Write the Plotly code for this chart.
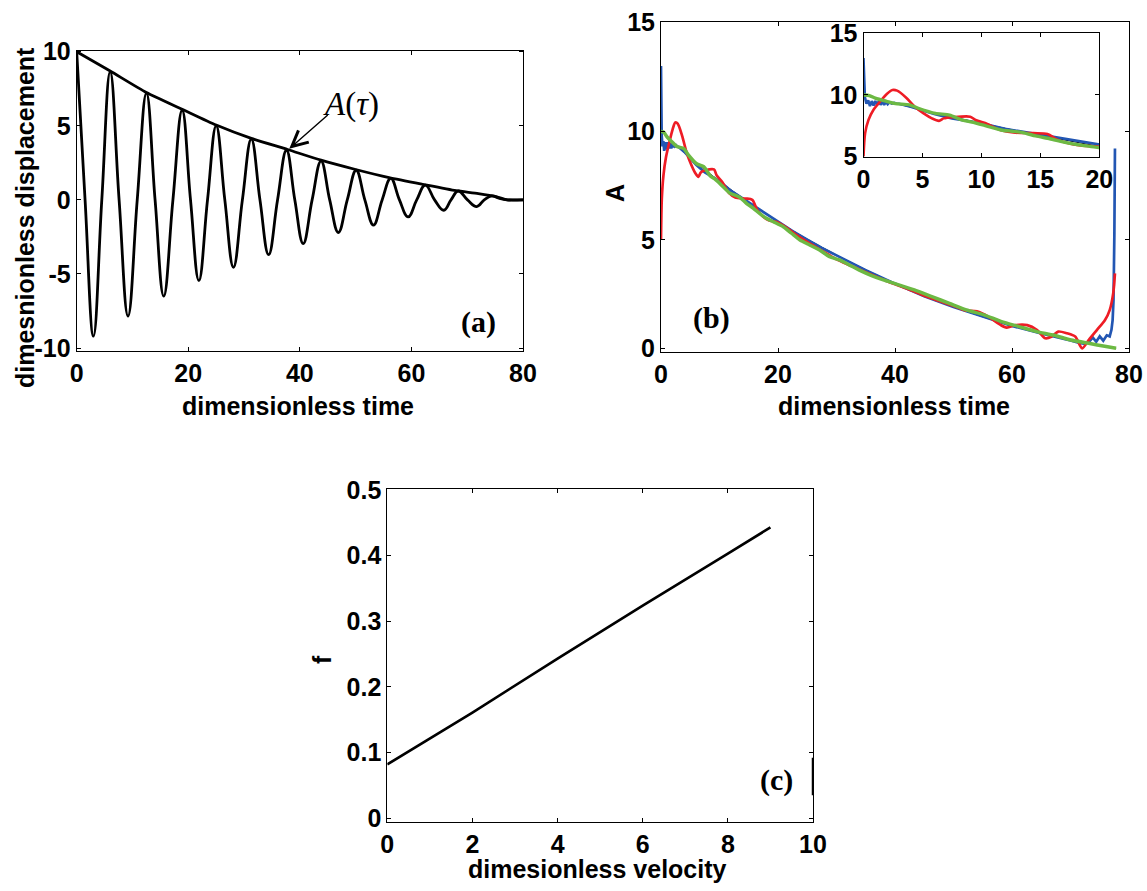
import plotly.graph_objects as go

W, H = 1147, 891

# ---------------- Panel (a): damped oscillation ----------------
a_t = [0, 1.5, 3.0, 4.5, 6.0, 7.6, 9.2, 10.85, 12.5, 14.05, 15.6, 17.25, 18.9, 20.4,
       21.9, 23.45, 25.0, 26.55, 28.1, 29.7, 31.3, 32.85, 34.4, 36.0, 37.6, 39.1, 40.6,
       42.2, 43.8, 45.35, 46.9, 48.5, 50.1, 51.65, 53.2, 54.75, 56.3, 57.85, 59.4, 60.95,
       62.5, 64.15, 65.8, 67.1, 68.4, 70.05, 71.7, 73.05, 74.4, 75.8, 77.1, 78.5, 80]
a_x = [10, 0, -9.2, 0, 8.65, 0, -7.85, 0, 7.2, 0, -6.5, 0, 6.05, 0,
       -5.45, 0, 5.0, 0, -4.55, 0, 4.1, 0, -3.7, 0, 3.35, 0, -2.95,
       0, 2.62, 0, -2.2, 0, 2.0, 0, -1.7, 0, 1.45, 0, -1.15, 0,
       1.0, 0, -0.7, 0, 0.6, 0, -0.45, 0, 0.27, 0.1, 0, 0, 0]
env_t = [0, 6, 12.5, 19, 25, 31.3, 37.8, 43.8, 50, 56, 62, 68, 72, 75.3, 77.2, 80]
env_A = [10, 8.7, 7.25, 6.1, 5.05, 4.15, 3.4, 2.68, 2.05, 1.5, 1.05, 0.62, 0.42, 0.2, 0, 0]
a_xticks = [0, 20, 40, 60, 80]
a_yticks = [-10, -5, 0, 5, 10]
a_yticklabels = ["-10", "-5", "0", "5", "10"]

# ---------------- Panel (b): amplitude A ----------------
b_blue_t = [0, 0.05, 0.12, 0.25, 0.4, 0.55, 0.7, 0.85, 1.0, 1.15, 1.3, 1.45, 1.6, 1.75, 1.9,
            2.05, 2.2, 2.4, 2.6, 2.8, 3.0, 4.0, 5.0, 6.0, 7.5, 10, 12, 15, 17.5, 20, 22.5,
            25, 27.5, 30, 32.5, 35, 40, 45, 50, 55, 60, 65, 68, 70, 71.5, 72.5, 73.2,
            73.8, 74.4, 75.0, 75.6, 76.2, 76.7, 77.0, 77.2, 77.35, 77.5, 77.6]
b_blue_A = [13.0, 11.0, 9.8, 9.3, 9.55, 9.1, 9.5, 9.15, 9.5, 9.2, 9.5, 9.2, 9.45, 9.2, 9.45,
            9.25, 9.4, 9.3, 9.35, 9.3, 9.28, 9.05, 8.75, 8.45, 8.1, 7.7, 7.25, 6.72, 6.25, 5.82, 5.4,
            5.0, 4.62, 4.28, 3.93, 3.6, 2.98, 2.4, 1.9, 1.45, 1.03, 0.68, 0.5, 0.36, 0.25, 0.2, 0.3,
            0.5, 0.3, 0.55, 0.35, 0.6, 0.55, 0.85, 1.3, 2.2, 5.3, 9.2]
b_red_t = [0, 0.14, 0.42, 0.85, 1.4, 2.0, 2.45, 2.85, 3.6, 4.4, 5.1, 5.8, 6.4, 6.8, 7.6, 9.05,
           9.5, 10.5, 11.6, 12.7, 14.4, 15.6, 16.4, 17.3, 18.4, 20, 21.5, 23, 25, 27.5, 30,
           32.5, 35, 37.5, 40, 42.5, 45, 47.5, 50, 52, 54, 56, 57.9, 59.1, 60.6, 62.6, 64.3,
           65.7, 66.8, 67.9, 69.4, 70.8, 72.0, 73.1, 74.5, 75.9, 76.7, 77.3, 77.6]
b_red_A = [5.0, 6.9, 7.97, 8.8, 9.46, 10.1, 10.4, 10.35, 9.8, 9.0, 8.5, 8.1, 7.9, 8.1, 8.2, 8.24,
           7.97, 7.65, 7.16, 6.95, 6.9, 6.84, 6.4, 6.1, 5.9, 5.8, 5.55, 5.25, 4.9, 4.5, 4.1,
           3.8, 3.5, 3.22, 2.95, 2.7, 2.42, 2.18, 1.95, 1.75, 1.7, 1.45, 1.1, 0.95, 1.07, 1.07, 0.84,
           0.46, 0.54, 0.77, 0.69, 0.54, 0.0, 0.38, 0.84, 1.3, 1.76, 2.53, 3.45]
b_green_t = [0, 0.5, 1.0, 1.9, 2.7, 3.9, 4.7, 6.1, 7.3, 8.4, 9.2, 10.4, 11.8, 12.6, 13.5, 14.6,
             15.8, 16.9, 18.0, 19.2, 20.9, 22.3, 23.7, 25.4, 27.1, 28.8, 30.5, 32.2, 33.9, 36,
             38, 40, 43.3, 46.3, 49.3, 52.2, 55.2, 58.2, 61.2, 64.2, 67.2, 70.1, 73.1, 76.1, 77.8]
b_green_A = [10.0, 9.95, 9.75, 9.5, 9.3, 9.2, 8.9, 8.5, 8.37, 7.95, 7.8, 7.5, 7.14, 7.06, 6.95, 6.68,
             6.45, 6.2, 5.99, 5.83, 5.6, 5.3, 5.0, 4.76, 4.53, 4.22, 4.07, 3.84, 3.6, 3.35,
             3.15, 2.98, 2.69, 2.38, 2.07, 1.77, 1.54, 1.23, 1.0, 0.77, 0.6, 0.38, 0.23, 0.08, 0.0]
b_black_t = [0, 1, 2, 3, 5, 7.5, 10, 12.5, 15, 17.5, 20, 25, 30, 35, 40, 45, 50, 55, 60, 65, 70, 75, 77.8]
b_black_A = [10, 9.75, 9.5, 9.25, 8.78, 8.22, 7.7, 7.2, 6.73, 6.27, 5.83, 5.03, 4.3, 3.62, 2.99,
             2.42, 1.9, 1.45, 1.04, 0.68, 0.38, 0.13, 0]
b_xticks = [0, 20, 40, 60, 80]
b_yticks = [0, 5, 10, 15]
inset_xticks = [0, 5, 10, 15, 20]
inset_yticks = [5, 10, 15]

# ---------------- Panel (c): f vs velocity ----------------
c_v = [0, 2, 4, 6, 8, 9]
c_f = [0.082, 0.161, 0.243, 0.324, 0.403, 0.443]
c_xticks = [0, 2, 4, 6, 8, 10]
c_yticks = [0, 0.1, 0.2, 0.3, 0.4, 0.5]
c_yticklabels = ["0", "0.1", "0.2", "0.3", "0.4", "0.5"]
c_axis_blot = [0.035, 0.092]

BLUE = "#2256b3"
RED = "#ee1c25"
GREEN = "#6cb943"

def px(x):
    return x / W

def py(y):
    return 1 - y / H

fig = go.Figure()

# (a)
fig.add_trace(go.Scatter(x=a_t, y=a_x, mode="lines", line=dict(color="black", width=2.8, shape="spline", smoothing=1.2),
                         xaxis="x", yaxis="y", showlegend=False))
fig.add_trace(go.Scatter(x=env_t, y=env_A, mode="lines", line=dict(color="black", width=2.8, shape="spline", smoothing=0.6),
                         xaxis="x", yaxis="y", showlegend=False))

# (b) main and inset
for xa, ya, w in (("x2", "y2", 2.7), ("x3", "y3", 2.6)):
    fig.add_trace(go.Scatter(x=b_black_t, y=b_black_A, mode="lines", line=dict(color="black", width=1, shape="spline"),
                             xaxis=xa, yaxis=ya, showlegend=False))
    fig.add_trace(go.Scatter(x=b_blue_t, y=b_blue_A, mode="lines", line=dict(color=BLUE, width=w),
                             xaxis=xa, yaxis=ya, showlegend=False))
    fig.add_trace(go.Scatter(x=b_red_t, y=b_red_A, mode="lines", line=dict(color=RED, width=w, shape="spline", smoothing=0.8),
                             xaxis=xa, yaxis=ya, showlegend=False))
    fig.add_trace(go.Scatter(x=b_green_t, y=b_green_A, mode="lines", line=dict(color=GREEN, width=w + 0.8, shape="spline", smoothing=0.6),
                             xaxis=xa, yaxis=ya, showlegend=False))

# (c)
fig.add_trace(go.Scatter(x=c_v, y=c_f, mode="lines", line=dict(color="black", width=2.6),
                         xaxis="x4", yaxis="y4", showlegend=False))

tickfont = dict(family="Liberation Sans, Arial, sans-serif", size=25, color="black", weight="bold")
axis_common = dict(showline=True, linecolor="black", linewidth=1, mirror="ticks", ticks="inside",
                   ticklen=4, tickwidth=1, tickcolor="black", showgrid=False, zeroline=False,
                   tickfont=tickfont, fixedrange=True, automargin=False)

layout = dict(
    width=W, height=H, margin=dict(l=0, r=0, t=0, b=0, pad=0, autoexpand=False),
    paper_bgcolor="white", plot_bgcolor="white", showlegend=False,
    xaxis=dict(axis_common, domain=[px(76.7), px(523)], range=[0, 80], tickvals=a_xticks, anchor="y"),
    yaxis=dict(axis_common, domain=[py(350.7), py(50.7)], range=[-10.18, 10.07], tickvals=a_yticks,
               ticktext=a_yticklabels, anchor="x"),
    xaxis2=dict(axis_common, domain=[px(661), px(1129)], range=[0, 80], tickvals=b_xticks, anchor="y2"),
    yaxis2=dict(axis_common, domain=[py(351.7), py(21.7)], range=[-0.157, 15.046], tickvals=b_yticks, anchor="x2"),
    xaxis3=dict(axis_common, domain=[px(863.5), px(1099.3)], range=[0, 20], tickvals=inset_xticks, anchor="y3"),
    yaxis3=dict(axis_common, domain=[py(156.6), py(33.3)], range=[5, 15], tickvals=inset_yticks, anchor="x3"),
    xaxis4=dict(axis_common, domain=[px(387.3), px(813)], range=[0, 10], tickvals=c_xticks, anchor="y4"),
    yaxis4=dict(axis_common, domain=[py(821.7), py(489.3)], range=[-0.0052, 0.501], tickvals=c_yticks,
                ticktext=c_yticklabels, anchor="x4"),
)
fig.update_layout(**layout)

titlefont = dict(family="Liberation Sans, Arial, sans-serif", size=25, color="black", weight="bold")
labelfont = dict(family="Liberation Serif, Times New Roman, serif", size=30, color="black", weight="bold")

def paper_text(text, x, y, font, angle=0):
    fig.add_annotation(text=text, x=px(x), y=py(y), xref="paper", yref="paper", showarrow=False,
                       xanchor="center", yanchor="middle", font=font, textangle=angle)

paper_text("dimensionless time", 298, 406, titlefont)
paper_text("dimesnionless displacement", 25, 218, titlefont, -90)
paper_text("dimensionless time", 894, 406, titlefont)
paper_text("A", 615, 193, titlefont, -90)
paper_text("dimesionless velocity", 597, 869, titlefont)
paper_text("f", 322, 660, titlefont, -90)

paper_text("(a)", 478, 322, labelfont)
paper_text("(b)", 711, 318, labelfont)
paper_text("(c)", 776, 780, labelfont)

paper_text("<i>A</i>(<i>τ</i>)", 351, 104, dict(family="Liberation Serif, Times New Roman, serif", size=33, color="black"))

fig.add_annotation(x=38.1, y=3.45, xref="x", yref="y", ax=40, ay=-35, axref="pixel", ayref="pixel",
                   text="", showarrow=True, arrowhead=5, arrowsize=2.2, arrowwidth=1.4, arrowcolor="black",
                   standoff=0, startstandoff=0)

fig.add_shape(type="line", xref="x4", yref="y4", x0=10, x1=10, y0=c_axis_blot[0], y1=c_axis_blot[1],
              line=dict(color="black", width=2.5))

fig.write_html("out.html", config={"displayModeBar": False, "staticPlot": True},
               post_script="document.body.style.margin='0';document.body.style.overflow='hidden';")
